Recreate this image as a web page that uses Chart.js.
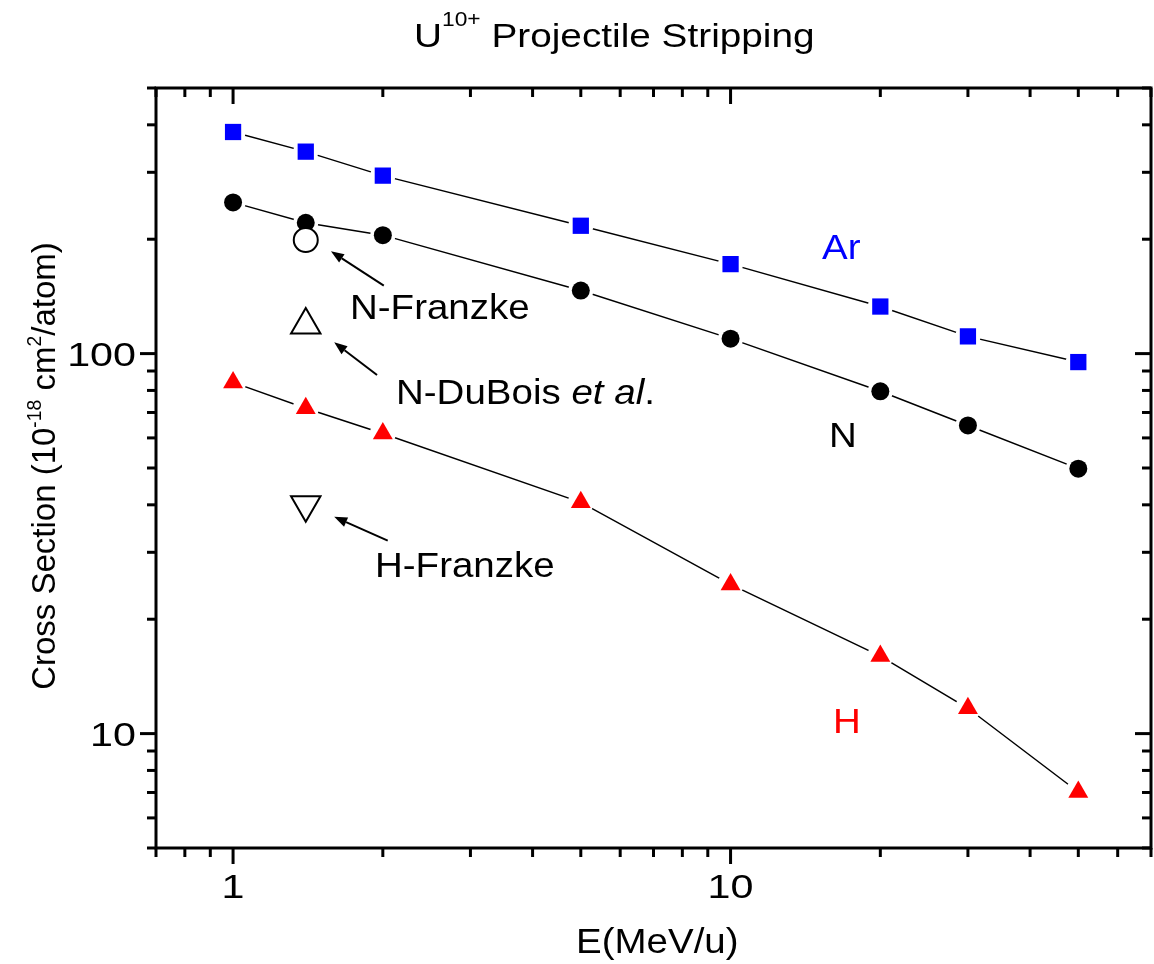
<!DOCTYPE html>
<html><head><meta charset="utf-8">
<script src="https://cdn.jsdelivr.net/npm/chart.js@4/dist/chart.umd.min.js"></script>
<style>
html,body{margin:0;padding:0;background:#fff;overflow:hidden}
#clip{position:relative;width:1154px;height:964px;overflow:hidden}
#c{position:absolute;left:0;top:0;width:1170px;height:964px}
</style>
</head><body><div id="clip"><canvas id="c" width="1170" height="964"></canvas></div>
<script>
// ---- data ----
const energies = [1, 1.4, 2, 5, 10, 20, 30, 50];
const arSigma = [383, 340, 294, 217, 172, 133, 111, 95];
const nSigma = [250, 221, 205, 146.5, 109.5, 79.6, 64.7, 49.8];
const hSigma = [84, 71.8, 61.6, 40.6, 24.7, 16, 11.66, 7.02];
const nFranzkeE = [1.4], nFranzkeSigma = [199];
const nDuBoisE = [1.4], nDuBoisSigma = [119];
const hFranzkeE = [1.4], hFranzkeSigma = [40];
const xTickLabels = [1, 10];
const yTickLabels = [10, 100];
const xMinorTicks = [0.7, 0.8, 0.9, 2, 3, 4, 5, 6, 7, 8, 9, 20, 30, 40, 50, 60, 70];
const yMinorTicks = [5, 6, 7, 8, 9, 20, 30, 40, 50, 60, 70, 80, 90, 200, 300, 400, 500];
const xRange = [0.7, 70], yRange = [5, 500];
// annotation arrows in data units: [tailE, tailSigma, headE, headSigma]
const arrows = [[2.009, 151, 1.573, 185.9], [1.947, 87.8, 1.597, 107.1], [2.046, 32.2, 1.597, 37.2]];

const pts = (xs, ys) => xs.map((x, i) => ({x, y: ys[i]}));
const FONT = '"Liberation Sans", Arial, Helvetica, sans-serif';

function drawRich(ctx, segs, x, y, o) {
  o = Object.assign({align: 'left', rot: 0, sx: 1.1, color: '#000'}, o || {});
  let total = 0;
  segs.forEach(s => {
    ctx.font = (s.italic ? 'italic ' : '') + s.size + 'px ' + FONT;
    s.w = ctx.measureText(s.t).width; total += s.w;
  });
  ctx.save();
  ctx.translate(x, y);
  if (o.rot) ctx.rotate(o.rot);
  ctx.scale(o.sx, 1);
  ctx.fillStyle = o.color;
  ctx.textBaseline = 'alphabetic';
  ctx.textAlign = 'left';
  let cx = o.align === 'center' ? -total / 2 : (o.align === 'right' ? -total : 0);
  segs.forEach(s => {
    ctx.font = (s.italic ? 'italic ' : '') + s.size + 'px ' + FONT;
    ctx.fillText(s.t, cx, -(s.rise || 0));
    cx += s.w;
  });
  ctx.restore();
}

const decor = {
  id: 'decor',
  afterDraw(chart) {
    const ctx = chart.ctx, a = chart.chartArea;
    const xs = chart.scales.x, ys = chart.scales.y;
    ctx.save();
    ctx.strokeStyle = '#000';
    ctx.lineWidth = 3;
    ctx.lineCap = 'butt';
    ctx.strokeRect(a.left, a.top, a.right - a.left, a.bottom - a.top);
    const MAJ = 16, MIN = 9;
    const tick = (x1, y1, x2, y2) => { ctx.beginPath(); ctx.moveTo(x1, y1); ctx.lineTo(x2, y2); ctx.stroke(); };
    xTickLabels.concat(xMinorTicks).forEach(v => {
      const px = xs.getPixelForValue(v);
      const len = xTickLabels.includes(v) ? MAJ : MIN;
      tick(px, a.bottom, px, a.bottom + len);
      tick(px, a.top, px, a.top + len);
    });
    yTickLabels.concat(yMinorTicks).forEach(v => {
      const py = ys.getPixelForValue(v);
      const len = yTickLabels.includes(v) ? MAJ : MIN;
      tick(a.left, py, a.left - len, py);
      tick(a.right, py, a.right - len, py);
    });
    // tick labels
    xTickLabels.forEach(v => {
      drawRich(ctx, [{t: String(v), size: 33}], xs.getPixelForValue(v), 898, {align: 'center', sx: 1.25});
    });
    yTickLabels.forEach(v => {
      drawRich(ctx, [{t: String(v), size: 33}], 136, ys.getPixelForValue(v) + 12, {align: 'right', sx: 1.25});
    });
    // arrows
    ctx.fillStyle = '#000';
    ctx.lineWidth = 2;
    arrows.forEach(([e1, s1, e2, s2]) => {
      const x1 = xs.getPixelForValue(e1), y1 = ys.getPixelForValue(s1);
      const x2 = xs.getPixelForValue(e2), y2 = ys.getPixelForValue(s2);
      const ang = Math.atan2(y2 - y1, x2 - x1), L = 13, W = 5;
      const bx = x2 - L * Math.cos(ang), by = y2 - L * Math.sin(ang);
      tick(x1, y1, bx, by);
      ctx.beginPath();
      ctx.moveTo(x2, y2);
      ctx.lineTo(bx + W * Math.sin(ang), by - W * Math.cos(ang));
      ctx.lineTo(bx - W * Math.sin(ang), by + W * Math.cos(ang));
      ctx.closePath(); ctx.fill();
    });
    // text
    drawRich(ctx, [{t: 'U', size: 34}, {t: '10+', size: 20, rise: 21}, {t: ' Projectile Stripping', size: 34}], 414, 47, {sx: 1.14});
    drawRich(ctx, [{t: 'E(MeV/u)', size: 35}], 576, 953);
    drawRich(ctx, [{t: 'Cross Section (10', size: 34}, {t: '-18', size: 20, rise: 14}, {t: ' cm', size: 34},
                   {t: '2', size: 20, rise: 14}, {t: '/atom)', size: 34}], 55, 466, {align: 'center', rot: -Math.PI / 2, sx: 0.97});
    drawRich(ctx, [{t: 'N-Franzke', size: 35}], 350, 319);
    drawRich(ctx, [{t: 'N-DuBois ', size: 35}, {t: 'et al', size: 35, italic: true}, {t: '.', size: 35}], 396, 404);
    drawRich(ctx, [{t: 'H-Franzke', size: 35}], 375, 577);
    drawRich(ctx, [{t: 'Ar', size: 35}], 822, 259, {color: '#0000ff'});
    drawRich(ctx, [{t: 'N', size: 35}], 829, 447, {color: '#000'});
    drawRich(ctx, [{t: 'H', size: 35}], 833, 733, {color: '#ff0000'});
    ctx.restore();
  }
};

const lineDs = (ys) => ({data: pts(energies, ys), showLine: true, borderColor: '#000', borderWidth: 1.5, pointRadius: 0, order: 30, clip: false});
const haloDs = (ys, r) => ({data: pts(energies, ys), showLine: false, pointStyle: 'circle', pointRadius: r, pointBackgroundColor: '#fff', pointBorderWidth: 0, order: 20, clip: false});
const markDs = (ys, style, r, color) => ({data: pts(energies, ys), showLine: false, pointStyle: style, pointRadius: r, pointBackgroundColor: color, pointBorderColor: color, pointBorderWidth: 0, order: 10, clip: false});

new Chart(document.getElementById('c'), {
  type: 'scatter',
  data: {
    datasets: [
      lineDs(arSigma), lineDs(nSigma), lineDs(hSigma),
      haloDs(arSigma, 12.5), haloDs(nSigma, 12.5), haloDs(hSigma, 13),
      markDs(arSigma, 'rect', 11.5, '#0000ff'),
      markDs(nSigma, 'circle', 9, '#000'),
      markDs(hSigma, 'triangle', 11.5, '#ff0000'),
      {data: pts(nFranzkeE, nFranzkeSigma), pointStyle: 'circle', pointRadius: 12, pointBackgroundColor: '#fff', pointBorderColor: '#000', pointBorderWidth: 2, order: 0, clip: false},
      {data: pts(nDuBoisE, nDuBoisSigma), pointStyle: 'triangle', pointRadius: 17, pointBackgroundColor: '#fff', pointBorderColor: '#000', pointBorderWidth: 2, order: 0, clip: false},
      {data: pts(hFranzkeE, hFranzkeSigma), pointStyle: 'triangle', pointRotation: 180, pointRadius: 17, pointBackgroundColor: '#fff', pointBorderColor: '#000', pointBorderWidth: 2, order: 0, clip: false}
    ]
  },
  options: {
    responsive: false, maintainAspectRatio: false, animation: false, devicePixelRatio: 1,
    layout: {padding: {left: 156, top: 88, right: 10, bottom: 116}},
    plugins: {legend: {display: false}, tooltip: {enabled: false}},
    events: [],
    scales: {
      x: {type: 'logarithmic', min: xRange[0], max: xRange[1], display: false},
      y: {type: 'logarithmic', min: yRange[0], max: yRange[1], display: false}
    }
  },
  plugins: [decor]
});
</script>
</body></html>
